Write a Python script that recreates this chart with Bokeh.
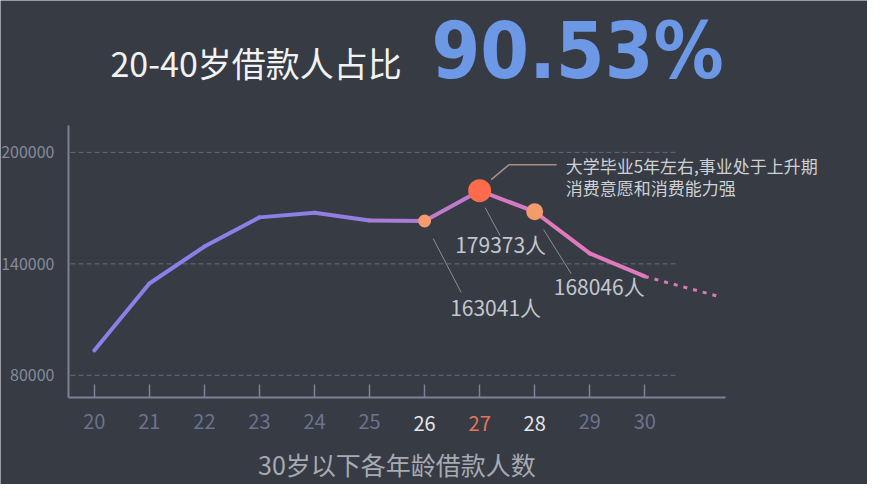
from bokeh.plotting import figure
from bokeh.models import FixedTicker, Label, NumeralTickFormatter
from bokeh.embed import file_html
from bokeh.resources import INLINE

# ---------------- data ----------------
ages = [20, 21, 22, 23, 24, 25, 26, 27, 28, 29, 30]
borrowers = [93400, 129400, 149300, 165000, 167500, 163300, 163041, 179373, 168046, 145600, 133200]
trend_age = [30, 31.35]
trend_val = [133200, 122400]
y_ticks = [80000, 140000, 200000]
highlight_ages = [26, 27, 28]
highlight_vals = [163041, 179373, 168046]
highlight_labels = ["163041人", "179373人", "168046人"]
title_text = "20-40岁借款人占比"
share_text = "90.53%"
note_lines = ["大学毕业5年左右,事业处于上升期", "消费意愿和消费能力强"]
x_title = "30岁以下各年龄借款人数"

# ---------------- layout ----------------
W, H = 867, 484
BG = "#363b44"
AXIS = "#7b8197"
FONT = "Noto Sans CJK SC"
X20, PXA = 93.8, 55.05          # pixel of age 20, pixels per year
Y140, PYV = 263.33, 1.858e-3    # pixel of 140000, pixels per borrower
XS = 20 - X20 / PXA
XE = XS + W / PXA
YE = 140000 + Y140 / PYV
YS = YE - H / PYV


def dx(px):
    return px / PXA


def dy(py):  # py positive = downward on screen
    return -py / PYV


def page_x(px):
    return XS + px / PXA


def page_y(py):
    return YE - py / PYV


p = figure(width=W, height=H, x_range=(XS, XE), y_range=(YS, YE),
           output_backend="svg", toolbar_location=None,
           min_border_left=0, min_border_right=0,
           min_border_top=0, min_border_bottom=0)
p.background_fill_color = BG
p.border_fill_color = BG
p.outline_line_color = None
p.xgrid.visible = False
p.ygrid.visible = False

AX_L, AX_R, AX_T, AX_B = 68, 725, 125, 397

# axes (fixed inside the full-size frame)
p.xaxis.fixed_location = page_y(AX_B)
p.xaxis.bounds = (page_x(AX_L), page_x(AX_R))
p.xaxis.ticker = FixedTicker(ticks=ages)
p.xaxis.major_label_overrides = {a: "" for a in highlight_ages}
p.xaxis.axis_line_color = AXIS
p.xaxis.axis_line_width = 2
p.xaxis.major_tick_line_color = AXIS
p.xaxis.major_tick_line_width = 1.5
p.xaxis.major_tick_in = 13
p.xaxis.major_tick_out = 0
p.xaxis.minor_tick_line_color = None
p.xaxis.major_label_text_color = "#6c7390"
p.xaxis.major_label_text_font = FONT
p.xaxis.major_label_text_font_size = "20px"
p.xaxis.major_label_standoff = 16
p.xaxis.axis_label = x_title
p.xaxis.axis_label_text_font = FONT
p.xaxis.axis_label_text_font_style = "normal"
p.xaxis.axis_label_text_font_size = "25px"
p.xaxis.axis_label_text_color = "#a6aab2"
p.xaxis.axis_label_standoff = 14

p.yaxis.fixed_location = page_x(AX_L)
p.yaxis.bounds = (page_y(AX_B), page_y(AX_T))
p.yaxis.ticker = FixedTicker(ticks=y_ticks)
p.yaxis.formatter = NumeralTickFormatter(format="0")
p.yaxis.axis_line_color = AXIS
p.yaxis.axis_line_width = 2
p.yaxis.major_tick_line_color = None
p.yaxis.minor_tick_line_color = None
p.yaxis.major_label_text_color = "#858b99"
p.yaxis.major_label_text_font = FONT
p.yaxis.major_label_text_font_size = "16px"
p.yaxis.major_label_standoff = 8

# dashed grid lines (stop short of the right end like the reference)
grid_x0, grid_x1 = page_x(AX_L + 2), page_x(678)
p.segment(x0=[grid_x0] * len(y_ticks), y0=y_ticks, x1=[grid_x1] * len(y_ticks), y1=y_ticks,
          line_color="#666c7c", line_width=1, line_dash="5 3")


# gradient line as coloured segments
def mix(t):
    c0 = (139, 127, 232)
    c1 = (224, 122, 188)
    return "#%02x%02x%02x" % tuple(int(a + (b - a) * t) for a, b in zip(c0, c1))


seg_colors = [mix(min(max((a + 0.5 - 24) / 4.0, 0.0), 1.0)) for a in ages[:-1]]
p.segment(x0=ages[:-1], y0=borrowers[:-1], x1=ages[1:], y1=borrowers[1:],
          line_color=seg_colors, line_width=4, line_cap="round")
p.line(trend_age, trend_val, line_color="#d97ab8", line_width=3, line_dash="4 6")

# leader lines for point labels
lead_start = [(8.6, 17.5), (5.5, 17), (9, 18)]
lead_end = [(36.6, 71.5), (20.5, 45), (36.5, 62)]
p.segment(x0=[a + dx(s[0]) for a, s in zip(highlight_ages, lead_start)],
          y0=[v + dy(s[1]) for v, s in zip(highlight_vals, lead_start)],
          x1=[a + dx(e[0]) for a, e in zip(highlight_ages, lead_end)],
          y1=[v + dy(e[1]) for v, e in zip(highlight_vals, lead_end)],
          line_color="#8a8e97", line_width=1)

# leader to the note
pk_a, pk_v = highlight_ages[1], highlight_vals[1]
p.line([pk_a + dx(11.5), pk_a + dx(29.5), pk_a + dx(77)],
       [pk_v + dy(-11), pk_v + dy(-26), pk_v + dy(-26)],
       line_color="#a88e8a", line_width=1.5)

# highlighted markers
p.scatter(x=highlight_ages, y=highlight_vals, size=[13, 23, 17],
          fill_color=["#f49a6e", "#ff6b4b", "#f59a6c"], line_color=None)

# point labels
label_off = [(71, 86), (21, 53), (64.5, 74)]
for a, v, t, o in zip(highlight_ages, highlight_vals, highlight_labels, label_off):
    p.add_layout(Label(x=a + dx(o[0]), y=v + dy(o[1]), text=t, text_font=FONT,
                       text_font_size="21px", text_color="#c4c7cd",
                       text_align="center", text_baseline="middle"))

# note text
for i, line in enumerate(note_lines):
    p.add_layout(Label(x=pk_a + dx(86), y=pk_v + dy(-25.5 + 22.5 * i), text=line,
                       text_font=FONT, text_font_size="17px", text_color="#cfd1d5",
                       text_align="left", text_baseline="middle"))

# coloured x tick labels for highlighted ages
tick_colors = ["#e6e6e8", "#e8735e", "#e6e6e8"]
for a, c in zip(highlight_ages, tick_colors):
    p.add_layout(Label(x=a, y=page_y(423), text=str(a), text_font=FONT,
                       text_font_size="20px", text_color=c,
                       text_align="center", text_baseline="middle"))

# headline
p.add_layout(Label(x=page_x(110), y=page_y(62), text=title_text, text_font=FONT,
                   text_font_size="34px", text_color="#f2f2f2",
                   text_align="left", text_baseline="middle"))
p.add_layout(Label(x=page_x(431), y=page_y(50), text=share_text,
                   text_font="'DejaVu Sans Condensed', Roboto",
                   text_font_style="bold", text_font_size="78px", text_color="#6c98e6",
                   text_align="left", text_baseline="middle"))

open("out.html", "w").write(file_html(p, INLINE))
